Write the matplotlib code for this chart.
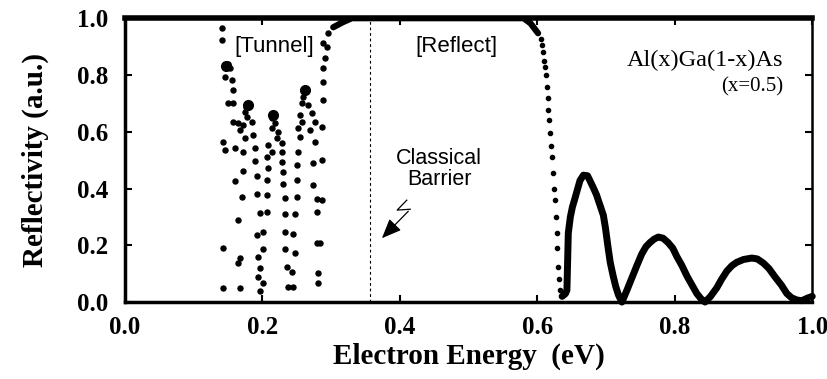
import numpy as np
import matplotlib
matplotlib.use("Agg")
import matplotlib.pyplot as plt

# tunnel region: sparse sampled points of the resonances (energy eV, reflectivity)
fringe1_e = [0.141, 0.141, 0.150, 0.153, 0.146, 0.156, 0.157, 0.150, 0.157, 0.143, 0.146,
             0.160, 0.172, 0.172, 0.160, 0.170, 0.165, 0.143, 0.167, 0.164, 0.143, 0.167]
fringe1_r = [0.965, 0.923, 0.840, 0.824, 0.792, 0.782, 0.746, 0.701, 0.701, 0.563, 0.535,
             0.542, 0.528, 0.461, 0.426, 0.370, 0.290, 0.190, 0.155, 0.137, 0.049, 0.049]
fringe2_e = [0.176, 0.175, 0.178, 0.185, 0.172, 0.157, 0.164, 0.167, 0.175, 0.186, 0.189, 0.189,
             0.192, 0.192, 0.197, 0.192, 0.201, 0.201, 0.194, 0.197, 0.194, 0.201, 0.197]
fringe2_r = [0.687, 0.669, 0.651, 0.634, 0.623, 0.634, 0.630, 0.606, 0.577, 0.588, 0.542, 0.496,
             0.444, 0.380, 0.313, 0.236, 0.246, 0.187, 0.158, 0.120, 0.088, 0.067, 0.039]
fringe3_e = [0.214, 0.218, 0.214, 0.223, 0.221, 0.208, 0.214, 0.229, 0.229, 0.207, 0.208, 0.207,
             0.207, 0.207, 0.229, 0.230, 0.230, 0.233, 0.233, 0.233, 0.233, 0.236, 0.237]
fringe3_r = [0.650, 0.630, 0.613, 0.599, 0.577, 0.553, 0.528, 0.560, 0.528, 0.511, 0.472, 0.430,
             0.377, 0.317, 0.493, 0.458, 0.415, 0.366, 0.310, 0.246, 0.187, 0.123, 0.053]
fringe4_e = [0.259, 0.258, 0.266, 0.255, 0.258, 0.252, 0.272, 0.277, 0.269, 0.255, 0.277, 0.252,
             0.250, 0.250, 0.250, 0.247, 0.245, 0.247, 0.243, 0.245, 0.274, 0.274, 0.279, 0.279,
             0.279, 0.281, 0.281]
fringe4_r = [0.722, 0.701, 0.694, 0.658, 0.634, 0.613, 0.665, 0.634, 0.606, 0.581, 0.563, 0.528,
             0.482, 0.430, 0.370, 0.310, 0.239, 0.173, 0.106, 0.053, 0.489, 0.412, 0.363, 0.317,
             0.208, 0.102, 0.067]
edge_e = [0.284, 0.287, 0.287, 0.287, 0.288, 0.288, 0.288, 0.291, 0.288, 0.294, 0.295]
edge_r = [0.208, 0.359, 0.500, 0.616, 0.711, 0.775, 0.824, 0.859, 0.912, 0.898, 0.947]

# blobs at the top of each resonance
peak_e = [0.147, 0.179, 0.216, 0.262]
peak_r = [0.830, 0.695, 0.660, 0.748]

# reflect plateau
plateau_e = [0.303, 0.317, 0.330, 0.400, 0.500, 0.580, 0.590, 0.601]
plateau_r = [0.968, 0.986, 1.000, 1.000, 1.000, 1.000, 0.982, 0.947]

# fall off the plateau (dotted)
drop_e = [0.605, 0.607, 0.608, 0.610, 0.611, 0.612, 0.614, 0.615, 0.616, 0.617, 0.619,
          0.620, 0.622, 0.623, 0.624, 0.626, 0.627, 0.629, 0.629, 0.630, 0.631, 0.633]
drop_r = [0.925, 0.905, 0.880, 0.850, 0.827, 0.800, 0.757, 0.720, 0.676, 0.640, 0.595,
          0.550, 0.511, 0.454, 0.400, 0.359, 0.300, 0.243, 0.190, 0.123, 0.080, 0.042]

# above-barrier oscillations
bump_e = [0.636, 0.641, 0.643, 0.645, 0.648, 0.651, 0.655, 0.658, 0.662, 0.667, 0.673, 0.681,
          0.686, 0.691, 0.696, 0.699, 0.703, 0.706, 0.710, 0.714, 0.718, 0.723,
          0.730, 0.740, 0.745, 0.752, 0.758, 0.764, 0.770, 0.776, 0.783, 0.790, 0.797, 0.803,
          0.810, 0.818, 0.825, 0.832, 0.838, 0.844,
          0.852, 0.861, 0.868, 0.876, 0.883, 0.890, 0.900, 0.912, 0.920, 0.929, 0.937, 0.946,
          0.955, 0.963, 0.970, 0.978, 0.985, 0.993, 1.000]
bump_r = [0.020, 0.030, 0.042, 0.243, 0.300, 0.335, 0.368, 0.394, 0.428, 0.447, 0.445, 0.405,
          0.378, 0.342, 0.306, 0.262, 0.190, 0.140, 0.095, 0.055, 0.025, 0.000,
          0.040, 0.100, 0.130, 0.170, 0.195, 0.210, 0.222, 0.229, 0.225, 0.210, 0.190, 0.160,
          0.130, 0.090, 0.060, 0.030, 0.012, 0.000,
          0.020, 0.050, 0.080, 0.110, 0.128, 0.140, 0.150, 0.155, 0.152, 0.137, 0.118, 0.088,
          0.060, 0.030, 0.015, 0.007, 0.005, 0.014, 0.020]

barrier = 0.357
xticks = [0.0, 0.2, 0.4, 0.6, 0.8, 1.0]
yticks = [0.0, 0.2, 0.4, 0.6, 0.8, 1.0]

serif = ["Liberation Serif", "DejaVu Serif"]
sans = ["Liberation Sans", "DejaVu Sans"]

fig = plt.figure(figsize=(8.28, 3.79), dpi=100)
ax = fig.add_axes([0.151, 0.203, 0.830, 0.749])

for e, r in [(fringe1_e, fringe1_r), (fringe2_e, fringe2_r), (fringe3_e, fringe3_r),
             (fringe4_e, fringe4_r), (edge_e, edge_r)]:
    ax.plot(e, r, "o", color="black", ms=3.6, mec="black", clip_on=False)
ax.plot(peak_e, peak_r, "o", color="black", ms=7)
ax.plot(plateau_e, plateau_r, "-", color="black", lw=4.5, solid_capstyle="round")
ax.plot(drop_e, drop_r, "o", color="black", ms=3.0)
ax.plot(bump_e, bump_r, "-", color="black", lw=5, solid_capstyle="round",
        solid_joinstyle="round", clip_on=False)

ax.plot([barrier, barrier], [0, 0.99], color="black", lw=0.8, dashes=(2.5, 2.5))

ax.set_xlim(0, 1)
ax.set_ylim(0, 1)
ax.set_xticks(xticks)
ax.set_yticks(yticks)
ax.set_xticklabels([f"{t:.1f}" for t in xticks], family=serif, weight="bold", fontsize=18)
ax.set_yticklabels([f"{t:.1f}" for t in yticks], family=serif, weight="bold", fontsize=18)
ax.tick_params(direction="in", length=5, width=1.5, top=True, right=True)
ax.tick_params(axis="x", pad=10)
ax.tick_params(axis="y", pad=12)
for side, w in [("top", 4), ("left", 2.5), ("bottom", 2.5), ("right", 1.8)]:
    ax.spines[side].set_linewidth(w)

ax.set_xlabel("Electron Energy  (eV)", family=serif, weight="bold", fontsize=21, labelpad=3)
ax.set_ylabel("Reflectivity (a.u.)", family=serif, weight="bold", fontsize=21, labelpad=20)

ax.text(0.217, 0.90, "[Tunnel]", family=sans, fontsize=16, ha="center", va="center")
ax.text(0.482, 0.90, "[Reflect]", family=sans, fontsize=16, ha="center", va="center")
ax.text(0.457, 0.47, "Classical\nBarrier", family=sans, fontsize=15.5, ha="center",
        va="center", linespacing=1.0)
ax.text(0.958, 0.852, "Al(x)Ga(1-x)As", family=serif, fontsize=17.5, ha="right", va="center")
ax.text(0.958, 0.757, "(x=0.5)", family=serif, fontsize=15, ha="right", va="center")

# lightning-bolt arrow pointing at the barrier line
ax.plot([0.410, 0.396, 0.415], [0.359, 0.324, 0.327], color="black", lw=0.9)
ax.annotate("", xy=(0.371, 0.218), xytext=(0.415, 0.327),
            arrowprops=dict(arrowstyle="-|>,head_length=1.2,head_width=0.5",
                            color="black", lw=0.9))

fig.savefig("out.png", dpi=100)
